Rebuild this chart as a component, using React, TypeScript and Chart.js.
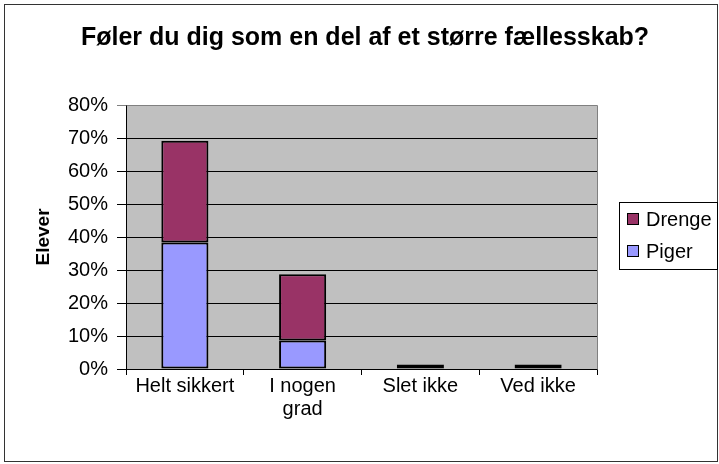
import React, { useEffect, useRef } from 'react';
import { Chart, registerables } from 'chart.js';

Chart.register(...registerables);

const chartTitle = 'Føler du dig som en del af et større fællesskab?';
const axisTitle = 'Elever';
const categories: (string | string[])[] = ['Helt sikkert', ['I nogen', 'grad'], 'Slet ikke', 'Ved ikke'];
const seriesNames = ['Piger', 'Drenge'];
const pigerValues = [38.3, 8.6, 0, 0];
const drengeValues = [30.9, 20.1, 1.4, 1.4];
const seriesColors = ['#9999FF', '#993366'];
const yMax = 80;
const yStep = 10;

const FONT = "Arial, 'Liberation Sans', sans-serif";

const decorPlugin = {
  id: 'decor',
  beforeDraw(chart: any) {
    const { ctx, chartArea: a, width, height } = chart;
    ctx.save();
    ctx.fillStyle = '#FFFFFF';
    ctx.fillRect(0, 0, width, height);
    ctx.fillStyle = '#C0C0C0';
    ctx.fillRect(a.left, a.top, a.right - a.left, a.bottom - a.top);
    ctx.restore();
  },
  afterDraw(chart: any) {
    const { ctx, chartArea: a } = chart;
    ctx.save();
    ctx.strokeStyle = '#808080';
    ctx.lineWidth = 1;
    ctx.beginPath();
    ctx.moveTo(Math.round(a.left) + 0.5, Math.round(a.top) + 0.5);
    ctx.lineTo(Math.round(a.right) + 0.5, Math.round(a.top) + 0.5);
    ctx.lineTo(Math.round(a.right) + 0.5, Math.round(a.bottom) + 0.5);
    ctx.stroke();
    ctx.strokeStyle = '#333333';
    ctx.strokeRect(4.5, 4.5, 713, 457);
    ctx.fillStyle = '#000000';
    ctx.font = `bold 25px ${FONT}`;
    ctx.textAlign = 'center';
    ctx.textBaseline = 'middle';
    ctx.fillText(chartTitle, 365, 38);
    ctx.strokeStyle = '#000000';
    ctx.strokeRect(619.5, 202.5, 98, 67);
    const ds = chart.data.datasets;
    const order = [1, 0];
    ctx.font = `20px ${FONT}`;
    ctx.textAlign = 'left';
    order.forEach((di, i) => {
      const y = 213 + i * 32;
      ctx.fillStyle = ds[di].backgroundColor;
      ctx.fillRect(627, y, 12, 12);
      ctx.strokeStyle = '#000000';
      ctx.strokeRect(627.5, y + 0.5, 11, 11);
      ctx.fillStyle = '#000000';
      ctx.fillText(ds[di].label, 646, y + 7);
    });
    ctx.restore();
  },
};

export default function App() {
  const ref = useRef<HTMLCanvasElement>(null);
  useEffect(() => {
    if (!ref.current) return;
    const chart = new Chart(ref.current, {
      type: 'bar',
      data: {
        labels: categories,
        datasets: [
          {
            label: seriesNames[0],
            data: pigerValues,
            backgroundColor: seriesColors[0],
            borderColor: '#000000',
            borderWidth: 2,
            borderSkipped: false,
            barPercentage: 0.4,
            categoryPercentage: 1,
          },
          {
            label: seriesNames[1],
            data: drengeValues,
            backgroundColor: seriesColors[1],
            borderColor: '#000000',
            borderWidth: 2,
            borderSkipped: false,
            barPercentage: 0.4,
            categoryPercentage: 1,
          },
        ],
      },
      options: {
        animation: false,
        responsive: true,
        maintainAspectRatio: false,
        layout: { padding: { top: 105, right: 122, left: 0, bottom: 0 } },
        plugins: {
          legend: { display: false },
          title: { display: false },
          tooltip: { enabled: false },
        },
        scales: {
          x: {
            stacked: true,
            afterFit: (s: any) => { s.height = 95; },
            grid: {
              display: true,
              drawOnChartArea: false,
              drawTicks: true,
              tickLength: 6,
              color: '#000000',
              offset: true,
            },
            border: { display: true, color: '#000000', width: 1 },
            ticks: {
              color: '#000000',
              padding: 0,
              maxRotation: 0,
              autoSkip: false,
              font: { family: FONT, size: 20, lineHeight: 1.15 },
            },
          },
          y: {
            stacked: true,
            min: 0,
            max: yMax,
            afterFit: (s: any) => { s.width = 126; },
            grid: {
              color: (c: any) => (c.tick && c.tick.value === yMax ? '#808080' : '#000000'),
              lineWidth: 1,
              drawTicks: true,
              tickLength: 9,
            },
            border: { display: true, color: '#000000', width: 1 },
            ticks: {
              stepSize: yStep,
              color: '#000000',
              padding: 9,
              font: { family: FONT, size: 20 },
              callback: (v: any) => `${v}%`,
            },
            title: {
              display: true,
              text: axisTitle,
              color: '#000000',
              font: { family: FONT, size: 19, weight: 'bold' },
              padding: { top: 32, bottom: 0 },
            },
          },
        },
      },
      plugins: [decorPlugin],
    });
    return () => chart.destroy();
  }, []);
  return (
    <div style={{ position: 'absolute', left: 0, top: 0, width: 719, height: 464 }}>
      <canvas ref={ref} />
    </div>
  );
}
